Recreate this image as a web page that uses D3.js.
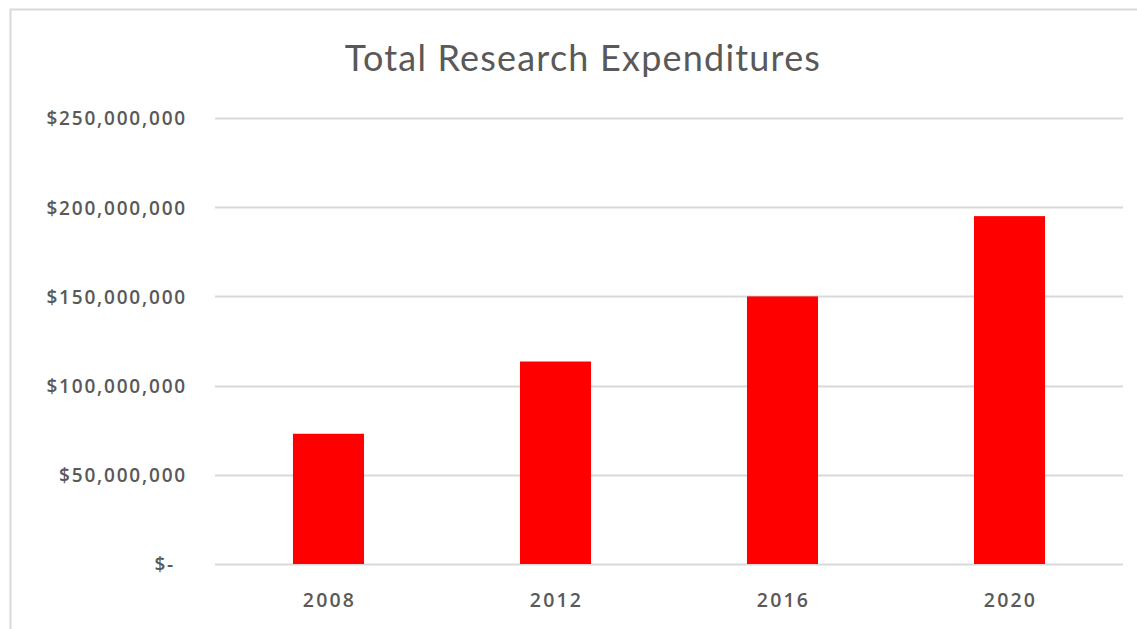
<!DOCTYPE html>
<html>
<head>
<meta charset="utf-8">
<script src="https://cdn.jsdelivr.net/npm/d3@7"></script>
<style>
  body { margin: 0; background: #fff; }
  text { font-family: Lato, "Open Sans", sans-serif; fill: #595959; }
</style>
</head>
<body>
<div id="chart"></div>
<script>
// chart data
var years = ["2008", "2012", "2016", "2020"];
var expenditures = [73000000, 113500000, 150000000, 195000000];
var yTicks = [0, 50000000, 100000000, 150000000, 200000000, 250000000];
var title = "Total Research Expenditures";

var width = 1137, height = 629;
var margin = {top: 118, right: 14, bottom: 65, left: 215};

var svg = d3.select("#chart")
  .append("svg")
    .attr("width", width)
    .attr("height", height);

// outer chart border (only top and left visible in the crop)
svg.append("path")
  .attr("d", "M10.5," + height + "V9.5H" + width)
  .attr("fill", "none")
  .attr("stroke", "#d9d9d9")
  .attr("stroke-width", 2);

var x = d3.scaleBand()
  .domain(years)
  .range([margin.left, width - margin.right])
  .paddingInner(0.687)
  .paddingOuter(0.3435);

var y = d3.scaleLinear()
  .domain([0, 250000000])
  .range([height - margin.bottom, margin.top]);

// gridlines
svg.append("g")
  .selectAll("line")
  .data(yTicks)
  .enter()
  .append("line")
    .attr("x1", margin.left)
    .attr("x2", width - margin.right)
    .attr("y1", function(d) { return Math.round(y(d)) + 0.5; })
    .attr("y2", function(d) { return Math.round(y(d)) + 0.5; })
    .attr("stroke", "#d9d9d9")
    .attr("stroke-width", 2);

// bars
svg.append("g")
  .selectAll("rect")
  .data(expenditures)
  .enter()
  .append("rect")
    .attr("x", function(d, i) { return x(years[i]); })
    .attr("width", x.bandwidth())
    .attr("y", function(d) { return y(d); })
    .attr("height", function(d) { return y(0) - y(d); })
    .attr("fill", "#ff0000");

// y axis labels
var fmt = d3.format(",");
var yAxis = svg.append("g")
  .attr("transform", "translate(" + (margin.left - 28) + ",0)")
  .call(d3.axisLeft(y).tickValues(yTicks).tickSize(0)
    .tickFormat(function(d) { return d === 0 ? "$-" : "$" + fmt(d); }));
yAxis.select(".domain").remove();
yAxis.selectAll("text")
  .attr("x", function(d) { return d === 0 ? -12 : 0; })
  .attr("dy", "0.36em")
  .style("font-family", "'Open Sans', sans-serif")
  .style("font-weight", "600")
  .style("font-size", "19px")
  .style("letter-spacing", "1.8px")
  .style("fill", "#595959");

// x axis labels
var xAxis = svg.append("g")
  .attr("transform", "translate(0," + (height - margin.bottom) + ")")
  .call(d3.axisBottom(x).tickSize(0));
xAxis.select(".domain").remove();
xAxis.selectAll("text")
  .attr("x", 1)
  .attr("y", 36)
  .attr("dy", "0.36em")
  .style("font-family", "'Open Sans', sans-serif")
  .style("font-weight", "600")
  .style("font-size", "19.5px")
  .style("letter-spacing", "2.2px")
  .style("fill", "#595959");

// title
svg.append("text")
  .attr("x", 583)
  .attr("y", 71)
  .attr("text-anchor", "middle")
  .style("font-size", "36px")
  .style("letter-spacing", "1.2px")
  .text(title);
</script>
</body>
</html>
